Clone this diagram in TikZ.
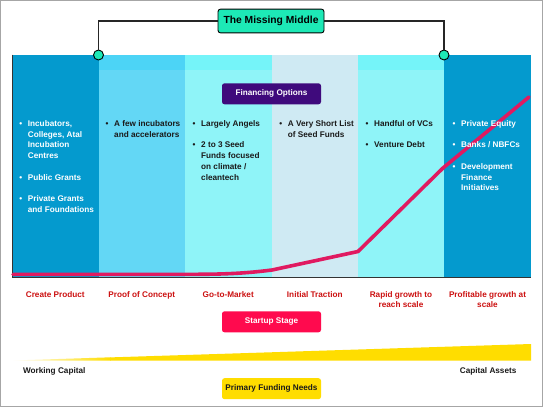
\documentclass[tikz,border=0pt]{standalone}
\usepackage{fontspec}
\setmainfont{Liberation Sans}
\definecolor{cdark}{HTML}{049ACE}
\definecolor{ctwo}{HTML}{63D7F5}
\definecolor{ctwotop}{HTML}{4CD4F6}
\definecolor{cthree}{HTML}{8FF4F8}
\definecolor{cthreetop}{HTML}{75F4F9}
\definecolor{cfour}{HTML}{CFEAF3}
\definecolor{titlefill}{HTML}{1DE9B6}
\definecolor{purplebox}{HTML}{3F0A7C}
\definecolor{startupfill}{HTML}{FF0A4E}
\definecolor{fundyel}{HTML}{FFDD00}
\definecolor{stagered}{HTML}{CC1111}
\definecolor{curvepink}{HTML}{E01A60}
\definecolor{txtdark}{HTML}{1A1A1A}
\newcommand\bl{\makebox[9pt][l]{\hspace{0.5pt}\textbullet}}
\newcommand\lst[1]{\begin{tabular}[t]{@{}l@{}l@{}}#1\end{tabular}}
\newcommand\ctr[1]{\begin{tabular}[t]{@{}c@{}}#1\end{tabular}}
\begin{document}
\begin{tikzpicture}[x=1pt,y=-1pt,
  btxt/.style={inner sep=0pt, font=\fontsize{8.2}{10.7}\selectfont\bfseries, anchor=base west},
  stagetxt/.style={inner sep=0pt, text=stagered, font=\fontsize{8.2}{10.7}\selectfont\bfseries, anchor=base},
  lbl/.style={rounded corners=2.5pt, minimum width=99pt, minimum height=21pt, inner sep=0pt, font=\fontsize{8.2}{10}\selectfont\bfseries},
  conn/.style={draw=black!85, line width=1.1pt},
  dot/.style={circle, draw=black, line width=0.9pt, fill=titlefill, minimum size=10pt, inner sep=0pt}]
\useasboundingbox (0,0) rectangle (543,407);
\fill[white] (0,0) rectangle (543,407);
\draw[black!35, line width=1pt] (0.5,0.5) rectangle (542.5,406.5);
% columns
\foreach \xa/\xb/\cb/\ct in {12/98.5/cdark/cdark, 98.5/185/ctwo/ctwotop, 185/271.5/cthree/cthreetop, 271.5/358/cfour/cfour, 358/444/cthree/cthreetop, 444/531/cdark/cdark}{
  \fill[\cb] (\xa,54.5) rectangle (\xb,277);
  \fill[\ct] (\xa,54.5) rectangle (\xb,69.5);
}
% axes
\draw[black!80, line width=1pt] (12,54.5) -- (12,277.5) -- (531,277.5);
% growth curve
\draw[curvepink, line width=3.6pt, line join=round, line cap=round]
  (13,274.3) -- (195,274.3) .. controls (232,274.3) and (252,272.5) .. (272,270)
  -- (358,251.5) -- (443,168) -- (529,97);
% column texts
\node[btxt, text=white] (t1) at (18.7,126.5) {\lst{\bl & Incubators,\\ & Colleges, Atal\\ & Incubation\\ & Centres\\ &\\ \bl & Public Grants\\ &\\ \bl & Private Grants\\ & and Foundations}};
\node[btxt, text=txtdark] (t2) at (105,126.5) {\lst{\bl & A few incubators\\ & and accelerators}};
\node[btxt, text=txtdark] (t3) at (192,126.5) {\lst{\bl & Largely Angels\\ &\\ \bl & 2 to 3 Seed\\ & Funds focused\\ & on climate /\\ & cleantech}};
\node[btxt, text=txtdark] (t4) at (278.7,126.5) {\lst{\bl & A Very Short List\\ & of Seed Funds}};
\node[btxt, text=txtdark] (t5) at (365,126.5) {\lst{\bl & Handful of VCs\\ &\\ \bl & Venture Debt}};
\node[btxt, text=white] (t6) at (452,126.5) {\lst{\bl & Private Equity\\ &\\ \bl & Banks / NBFCs\\ &\\ \bl & Development\\ & Finance\\ & Initiatives}};
% financing options
\node[lbl, fill=purplebox, text=white] (fin) at (271.5,93.8) {Financing Options};
% title and connectors
\node[draw=black, line width=0.9pt, fill=titlefill, rounded corners=2.5pt, minimum width=106pt, minimum height=23.7pt, inner sep=0pt, font=\fontsize{10.3}{12}\selectfont\bfseries] (title) at (271,21) {The Missing Middle};
\node[dot] (cl) at (98.5,55) {};
\node[dot] (cr) at (444,55) {};
\draw[conn] (title.west) -| (cl);
\draw[conn] (title.east) -| (cr);
% stage labels
\node[stagetxt] (s1) at (55.25,297) {\ctr{Create Product}};
\node[stagetxt] (s2) at (141.75,297) {\ctr{Proof of Concept}};
\node[stagetxt] (s3) at (228.25,297) {\ctr{Go-to-Market}};
\node[stagetxt] (s4) at (314.75,297) {\ctr{Initial Traction}};
\node[stagetxt] (s5) at (401,297) {\ctr{Rapid growth to\\ reach scale}};
\node[stagetxt] (s6) at (487.5,297) {\ctr{Profitable growth at\\ scale}};
\node[lbl, fill=startupfill, text=white] (stage) at (271.5,321.8) {Startup Stage};
% funding wedge
\shade[left color=white, right color=fundyel] (12,360.5) -- (110.5,357.3) -- (110.5,360.5) -- cycle;
\fill[fundyel] (110,357.4) -- (531,344) -- (531,360.5) -- (110,360.5) -- cycle;
\node[inner sep=0pt, anchor=base west, font=\fontsize{8.2}{10}\selectfont\bfseries, text=txtdark] (wc) at (22.9,373.3) {Working Capital};
\node[inner sep=0pt, anchor=base east, font=\fontsize{8.2}{10}\selectfont\bfseries, text=txtdark] (ca) at (516.6,373.3) {Capital Assets};
\node[lbl, fill=fundyel, text=txtdark] (fund) at (271.5,388.7) {Primary Funding Needs};
\end{tikzpicture}
\end{document}
